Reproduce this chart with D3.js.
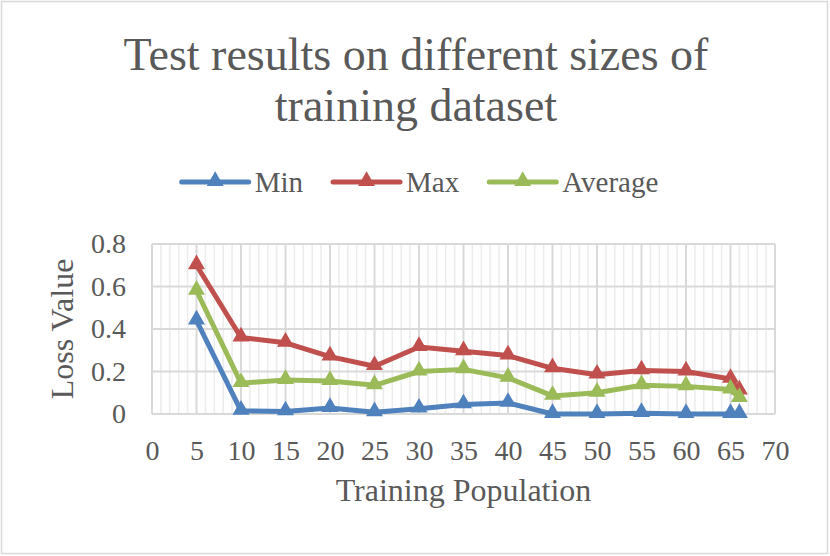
<!DOCTYPE html>
<head>
<meta charset="utf-8">
<title>Test results on different sizes of training dataset</title>
<script type="text/javascript" src="https://d3js.org/d3.v7.min.js"></script>
<style>
body { margin: 0; background: #fff; }
text { font-family: "Liberation Serif", "Times New Roman", serif; fill: #595959; }
.axis path, .axis line { display: none; }
.axis text { font-size: 28px; }
.grid-major { stroke: #d9d9d9; stroke-width: 2; }
.grid-minor { stroke: #ececec; stroke-width: 1.5; }
.line { fill: none; stroke-width: 5; stroke-linejoin: round; }
</style>
</head>
<body>
<div id="container"></div>
<script>
//--------------------------- DATA ---------------------------//
const population = [5, 10, 15, 20, 25, 30, 35, 40, 45, 50, 55, 60, 65, 66];
const minLoss  = [0.44, 0.015, 0.012, 0.028, 0.008, 0.025, 0.045, 0.052, 0, 0, 0.004, 0, 0, 0];
const maxLoss  = [0.70, 0.36, 0.335, 0.27, 0.225, 0.315, 0.295, 0.275, 0.215, 0.185, 0.205, 0.20, 0.165, 0.11];
const avgLoss  = [0.58, 0.145, 0.16, 0.155, 0.135, 0.20, 0.21, 0.17, 0.085, 0.10, 0.135, 0.13, 0.115, 0.075];
const seriesNames = ["Min", "Max", "Average"];
const seriesColors = ["#4f81bd", "#c0504d", "#9bbb59"];
const xTicks = [0, 5, 10, 15, 20, 25, 30, 35, 40, 45, 50, 55, 60, 65, 70];
const yTicks = [0, 0.2, 0.4, 0.6, 0.8];
const titleLines = ["Test results on different sizes of", "training dataset"];

//--------------------------- SVG ----------------------------//
const width = 830;
const height = 556;
const plot = { left: 152, right: 775, top: 244, bottom: 414 };

const svg = d3.select("div#container").append("svg")
    .attr("width", width)
    .attr("height", height);

svg.append("rect")
    .attr("x", 1.5).attr("y", 1.5)
    .attr("width", width - 4).attr("height", height - 4)
    .attr("fill", "#fff")
    .attr("stroke", "#d9d9d9")
    .attr("stroke-width", 1.5);

//-------------------------- SCALES --------------------------//
const xScale = d3.scaleLinear().domain([0, 70]).range([plot.left, plot.right]);
const yScale = d3.scaleLinear().domain([0, 0.8]).range([plot.bottom, plot.top]);

//-------------------------- GRID ----------------------------//
svg.append("g").selectAll("line")
    .data(d3.range(0, 71, 1).filter(function(v) { return v % 5 !== 0; }))
    .enter().append("line")
    .attr("class", "grid-minor")
    .attr("x1", function(d) { return xScale(d); })
    .attr("x2", function(d) { return xScale(d); })
    .attr("y1", plot.top).attr("y2", plot.bottom);

svg.append("g").selectAll("line")
    .data(xTicks)
    .enter().append("line")
    .attr("class", "grid-major")
    .attr("x1", function(d) { return xScale(d); })
    .attr("x2", function(d) { return xScale(d); })
    .attr("y1", plot.top).attr("y2", plot.bottom);

svg.append("g").selectAll("line")
    .data(yTicks)
    .enter().append("line")
    .attr("class", "grid-major")
    .attr("x1", plot.left).attr("x2", plot.right)
    .attr("y1", function(d) { return yScale(d); })
    .attr("y2", function(d) { return yScale(d); });

//-------------------------- AXES ----------------------------//
const xaxis = d3.axisBottom(xScale)
    .tickValues(xTicks)
    .tickSize(0)
    .tickPadding(26)
    .tickFormat(d3.format("d"));

const yaxis = d3.axisLeft(yScale)
    .tickValues(yTicks)
    .tickSize(0)
    .tickPadding(26)
    .tickFormat(function(d) { return d === 0 ? "0" : d3.format(".1f")(d); });

svg.append("g")
    .attr("class", "axis")
    .attr("transform", "translate(0," + plot.bottom + ")")
    .call(xaxis);

svg.append("g")
    .attr("class", "axis")
    .attr("transform", "translate(" + plot.left + ",0)")
    .call(yaxis);

svg.selectAll(".axis text").attr("fill", "#595959");

svg.append("text")
    .attr("x", (plot.left + plot.right) / 2)
    .attr("y", 501)
    .attr("text-anchor", "middle")
    .style("font-size", "32px")
    .text("Training Population");

svg.append("text")
    .attr("transform", "translate(73," + ((plot.top + plot.bottom) / 2) + ") rotate(-90)")
    .attr("text-anchor", "middle")
    .style("font-size", "32px")
    .text("Loss Value");

//-------------------------- TITLE ---------------------------//
svg.append("g").selectAll("text")
    .data(titleLines)
    .enter().append("text")
    .attr("x", 416)
    .attr("y", function(d, i) { return 70 + i * 51; })
    .attr("text-anchor", "middle")
    .style("font-size", "46px")
    .text(function(d) { return d; });

//-------------------------- LINES ---------------------------//
const slices = [minLoss, maxLoss, avgLoss].map(function(vals, i) {
    return {
        id: seriesNames[i],
        color: seriesColors[i],
        values: population.map(function(p, j) { return { x: p, y: vals[j] }; })
    };
});

const line = d3.line()
    .x(function(d) { return xScale(d.x); })
    .y(function(d) { return yScale(d.y); });

const triangle = d3.symbol().type(d3.symbolTriangle).size(125);

const series = svg.selectAll(".series")
    .data(slices)
    .enter().append("g")
    .attr("class", "series");

series.append("path")
    .attr("class", "line")
    .attr("stroke", function(d) { return d.color; })
    .attr("d", function(d) { return line(d.values); });

series.selectAll(".marker")
    .data(function(d) { return d.values.map(function(v) { return { x: v.x, y: v.y, color: d.color }; }); })
    .enter().append("path")
    .attr("class", "marker")
    .attr("d", triangle)
    .attr("fill", function(d) { return d.color; })
    .attr("transform", function(d) { return "translate(" + xScale(d.x) + "," + (yScale(d.y) - 1) + ")"; });

//-------------------------- LEGEND --------------------------//
const legendY = 182;
const legend = svg.append("g");
let cursor = 0;
slices.forEach(function(s) {
    const item = legend.append("g").attr("transform", "translate(" + cursor + ",0)");
    item.append("line")
        .attr("x1", 0).attr("x2", 67)
        .attr("y1", legendY).attr("y2", legendY)
        .attr("stroke", s.color)
        .attr("stroke-width", 5)
        .attr("stroke-linecap", "round");
    item.append("path")
        .attr("d", triangle)
        .attr("fill", s.color)
        .attr("transform", "translate(33.5," + (legendY - 1) + ")");
    const label = item.append("text")
        .attr("x", 73)
        .attr("y", legendY)
        .attr("dy", "0.34em")
        .style("font-size", "29px")
        .text(s.id);
    cursor += 73 + label.node().getComputedTextLength() + 30;
});
const legendWidth = cursor - 30;
legend.attr("transform", "translate(" + (420 - legendWidth / 2) + ",0)");
</script>
</body>
